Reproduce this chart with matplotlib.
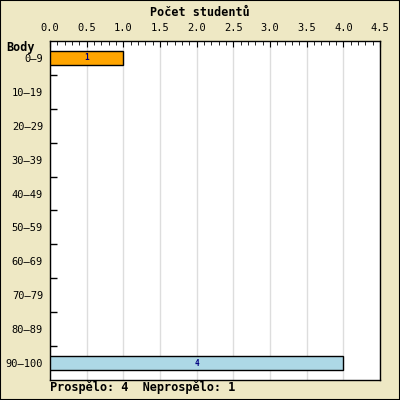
import matplotlib
matplotlib.use("Agg")
import matplotlib.pyplot as plt
import numpy as np

categories = ["0–9", "10–19", "20–29", "30–39", "40–49", "50–59", "60–69", "70–79", "80–89", "90–100"]
counts = [1, 0, 0, 0, 0, 0, 0, 0, 0, 4]
colors = ["#FFA500"] + ["#FFA500"] * 8 + ["#ADD8E6"]
xticks = [0.0, 0.5, 1.0, 1.5, 2.0, 2.5, 3.0, 3.5, 4.0, 4.5]
title = "Počet studentů"
ylabel = "Body"
footer = "Prospělo: 4  Neprospělo: 1"

bg = "#EEE8C4"
font = "DejaVu Sans Mono"
fs = 7.5

fig = plt.figure(figsize=(4, 4), dpi=100, facecolor=bg)
fig.patches.append(plt.Rectangle((0, 0), 1, 1, transform=fig.transFigure,
                                 fill=False, edgecolor="black", linewidth=1.5))
ax = fig.add_axes([50/400, 20/400, 330/400, 339/400])
ax.set_facecolor("white")

y = np.arange(len(categories))
for i, (c, v) in enumerate(zip(categories, counts)):
    if v > 0:
        ax.barh(i, v, height=0.42, color=colors[i], edgecolor="black", linewidth=1, zorder=3)
        ax.text(v / 2, i, str(v), ha="center", va="center", fontsize=5.5,
                color="#000080", family=font, fontweight="bold", zorder=4)

ax.set_xlim(0, 4.5)
ax.set_ylim(len(categories) - 0.5, -0.5)
ax.xaxis.tick_top()
ax.set_xticks(xticks)
ax.set_xticklabels([f"{t:.1f}" for t in xticks], family=font, fontsize=fs)
ax.set_xticks(np.arange(0, 4.51, 0.1), minor=True)
ax.tick_params(axis="x", which="major", direction="in", length=4, pad=6, top=True, bottom=False)
ax.tick_params(axis="x", which="minor", direction="in", length=3, top=True, bottom=False)
ax.grid(axis="x", which="major", color="#DDDDDD", linewidth=1, zorder=0)

ax.set_yticks(y)
ax.set_yticklabels(categories, family=font, fontsize=fs)
ax.set_yticks(np.arange(0.5, len(categories) - 1, 1.0), minor=True)
ax.tick_params(axis="y", which="major", length=0, pad=5)
ax.tick_params(axis="y", which="minor", direction="in", length=5, width=1)
for s in ax.spines.values():
    s.set_linewidth(1)
    s.set_color("black")

fig.text(0.5, 1 - 12/400, title, ha="center", va="center", family=font,
         fontsize=8.5, fontweight="bold")
fig.text(6/400, 1 - 48/400, ylabel, ha="left", va="center", family=font,
         fontsize=8.5, fontweight="bold")
fig.text(50/400, 1 - 388/400, footer, ha="left", va="center", family=font,
         fontsize=8.6, fontweight="bold")

fig.savefig("out.png", dpi=100, facecolor=bg)
